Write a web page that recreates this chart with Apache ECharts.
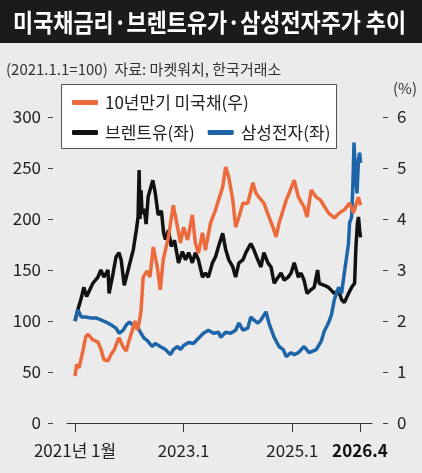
<!DOCTYPE html>
<html>
<head>
<meta charset="utf-8">
<script src="https://cdn.jsdelivr.net/npm/echarts@6/dist/echarts.min.js"></script>
<style>
  html, body { margin: 0; padding: 0; background: #ebebeb; }
  #main { width: 422px; height: 473px; }
</style>
</head>
<body>
<div id="main"></div>
<script>
// 축 눈금
var xTickDates = ['2021-01-01', '2023-01-01', '2025-01-01', '2026-04-01'];
var xTickLabels = ['2021년 1월', '2023.1', '2025.1', '2026.4'];

// 브렌트유 (2021.1.1=100, 좌)
var brent = [
  ['2021-01-01', 100], ['2021-01-14', 108], ['2021-02-11', 122], ['2021-03-01', 133],
  ['2021-03-20', 124], ['2021-05-01', 137], ['2021-06-04', 143], ['2021-06-24', 150],
  ['2021-07-14', 143], ['2021-08-11', 150], ['2021-08-18', 127], ['2021-09-14', 147],
  ['2021-10-04', 163], ['2021-10-24', 167], ['2021-11-07', 160], ['2021-11-28', 135],
  ['2021-12-24', 150], ['2022-01-28', 170], ['2022-02-17', 189], ['2022-03-01', 202],
  ['2022-03-08', 248], ['2022-03-14', 200], ['2022-03-21', 228], ['2022-03-28', 205],
  ['2022-04-11', 210], ['2022-04-24', 195], ['2022-05-08', 222], ['2022-06-08', 238],
  ['2022-06-24', 226], ['2022-07-14', 204], ['2022-08-05', 208], ['2022-08-20', 186],
  ['2022-09-01', 180], ['2022-09-21', 189], ['2022-10-10', 173], ['2022-11-01', 179],
  ['2022-11-28', 157], ['2022-12-24', 168], ['2023-01-14', 160], ['2023-02-04', 167],
  ['2023-03-01', 157], ['2023-03-21', 167], ['2023-04-11', 160], ['2023-05-08', 143],
  ['2023-05-28', 147], ['2023-06-17', 143], ['2023-07-14', 157], ['2023-08-04', 163],
  ['2023-08-24', 173], ['2023-09-21', 186], ['2023-10-11', 170], ['2023-11-01', 160],
  ['2023-11-28', 153], ['2023-12-17', 143], ['2024-01-08', 157], ['2024-02-04', 160],
  ['2024-02-24', 167], ['2024-03-28', 176], ['2024-04-17', 170], ['2024-05-14', 160],
  ['2024-06-04', 153], ['2024-06-24', 167], ['2024-07-21', 157], ['2024-08-11', 153],
  ['2024-09-01', 137], ['2024-09-28', 143], ['2024-10-17', 147], ['2024-11-08', 140],
  ['2024-12-04', 143], ['2024-12-24', 147], ['2025-01-14', 157], ['2025-02-11', 143],
  ['2025-03-01', 147], ['2025-03-21', 140], ['2025-04-10', 127], ['2025-05-01', 130],
  ['2025-05-28', 133], ['2025-06-20', 150], ['2025-07-01', 137], ['2025-08-04', 135],
  ['2025-09-01', 133], ['2025-09-21', 130], ['2025-10-11', 127], ['2025-11-08', 130],
  ['2025-11-28', 121], ['2025-12-17', 118], ['2026-01-14', 127], ['2026-02-04', 133],
  ['2026-02-24', 137], ['2026-03-05', 173], ['2026-03-15', 196], ['2026-03-22', 202],
  ['2026-03-30', 189], ['2026-04-05', 182]
];

// 삼성전자 주가 (2021.1.1=100, 좌)
var samsung = [
  ['2021-01-01', 100], ['2021-01-14', 108], ['2021-01-21', 111], ['2021-02-11', 104],
  ['2021-03-14', 104], ['2021-04-17', 103], ['2021-05-21', 103], ['2021-06-24', 101],
  ['2021-07-28', 99], ['2021-09-01', 96], ['2021-10-04', 93], ['2021-10-24', 88],
  ['2021-11-21', 91], ['2021-12-11', 96], ['2022-01-01', 99], ['2022-01-28', 96],
  ['2022-02-17', 98], ['2022-03-08', 91], ['2022-04-11', 83], ['2022-05-01', 81],
  ['2022-06-04', 75], ['2022-06-24', 78], ['2022-07-28', 75], ['2022-09-01', 72],
  ['2022-10-04', 67], ['2022-10-24', 72], ['2022-11-21', 75], ['2022-12-11', 72],
  ['2023-01-01', 76], ['2023-02-04', 79], ['2023-03-08', 78], ['2023-04-11', 83],
  ['2023-05-14', 88], ['2023-06-17', 91], ['2023-07-21', 88], ['2023-08-24', 89],
  ['2023-09-08', 84], ['2023-10-11', 89], ['2023-11-14', 88], ['2023-12-17', 91],
  ['2024-01-08', 98], ['2024-02-04', 91], ['2024-03-08', 93], ['2024-03-28', 104],
  ['2024-04-17', 101], ['2024-05-14', 98], ['2024-06-04', 101], ['2024-07-08', 109],
  ['2024-07-28', 98], ['2024-09-01', 84], ['2024-10-04', 75], ['2024-11-01', 72],
  ['2024-11-21', 65], ['2024-12-24', 69], ['2025-01-14', 67], ['2025-02-11', 69],
  ['2025-03-21', 75], ['2025-04-24', 69], ['2025-06-11', 72], ['2025-07-14', 80],
  ['2025-08-04', 90], ['2025-09-01', 98], ['2025-09-21', 106], ['2025-10-11', 121],
  ['2025-11-08', 133], ['2025-11-28', 127], ['2025-12-17', 147], ['2026-01-14', 176],
  ['2026-01-21', 196], ['2026-02-04', 202], ['2026-02-12', 231], ['2026-02-20', 275],
  ['2026-03-01', 248], ['2026-03-12', 225], ['2026-03-22', 258], ['2026-03-30', 265],
  ['2026-04-05', 255]
];

// 10년만기 미국채 금리 (%, 우)
var treasury = [
  ['2021-01-01', 0.92], ['2021-01-12', 1.15], ['2021-01-28', 1.08], ['2021-02-24', 1.43],
  ['2021-03-14', 1.69], ['2021-03-30', 1.74], ['2021-05-01', 1.63], ['2021-06-04', 1.59],
  ['2021-06-24', 1.45], ['2021-07-14', 1.24], ['2021-08-11', 1.22], ['2021-09-01', 1.35],
  ['2021-09-21', 1.43], ['2021-10-17', 1.63], ['2021-10-24', 1.67], ['2021-11-21', 1.49],
  ['2021-12-11', 1.41], ['2022-01-01', 1.63], ['2022-01-28', 1.88], ['2022-02-08', 2.0],
  ['2022-02-24', 1.82], ['2022-03-08', 1.96], ['2022-03-21', 2.2], ['2022-04-04', 2.86],
  ['2022-05-01', 2.98], ['2022-05-20', 2.86], ['2022-06-11', 3.45], ['2022-07-08', 3.06],
  ['2022-07-28', 2.61], ['2022-08-17', 3.2], ['2022-09-21', 3.65], ['2022-10-24', 4.27],
  ['2022-11-21', 3.84], ['2022-12-11', 3.53], ['2023-01-01', 3.84], ['2023-01-28', 3.59],
  ['2023-03-01', 4.08], ['2023-03-21', 3.53], ['2023-04-11', 3.33], ['2023-05-08', 3.73],
  ['2023-05-28', 3.39], ['2023-07-01', 3.92], ['2023-08-04', 4.18], ['2023-08-24', 4.37],
  ['2023-09-21', 4.63], ['2023-10-11', 5.02], ['2023-11-01', 4.82], ['2023-11-28', 4.37],
  ['2023-12-17', 3.84], ['2024-01-08', 4.04], ['2024-02-04', 4.31], ['2024-03-08', 4.31],
  ['2024-04-11', 4.71], ['2024-05-01', 4.51], ['2024-05-21', 4.43], ['2024-06-24', 4.31],
  ['2024-07-28', 4.04], ['2024-08-24', 3.84], ['2024-09-14', 3.65], ['2024-10-04', 3.92],
  ['2024-11-01', 4.18], ['2024-11-21', 4.37], ['2024-12-11', 4.51], ['2025-01-14', 4.76],
  ['2025-02-11', 4.43], ['2025-03-21', 4.24], ['2025-04-10', 4.04], ['2025-05-08', 4.57],
  ['2025-06-11', 4.43], ['2025-07-10', 4.37], ['2025-08-04', 4.25], ['2025-09-01', 4.12],
  ['2025-10-11', 4.02], ['2025-11-14', 4.12], ['2025-12-17', 4.18], ['2026-01-21', 4.31],
  ['2026-02-17', 4.12], ['2026-03-08', 4.31], ['2026-03-22', 4.43], ['2026-04-05', 4.27]
];

var FONT = '"Noto Sans CJK KR", "Noto Sans", sans-serif';

function ts(d) { return echarts.time.parse(d).getTime(); }
function toPoints(list) { return list.map(function (p) { return [ts(p[0]), p[1]]; }); }

var tickTimes = xTickDates.map(ts);

var myChart = echarts.init(document.getElementById('main'));

var option = {
  backgroundColor: '#ebebeb',
  textStyle: { fontFamily: FONT },
  graphic: [{
    type: 'rect',
    z: -10,
    shape: { x: 0, y: 0, width: 422, height: 43 },
    style: { fill: '#1b1b1b' }
  }, {
    // 제목 (좁은 글꼴 느낌으로 가로 축소)
    type: 'text',
    x: 13,
    y: 22,
    scaleX: 0.875,
    style: {
      text: '미국채금리·브렌트유가·삼성전자주가 추이',
      fill: '#fff',
      font: 'bold 25px ' + FONT,
      verticalAlign: 'middle'
    }
  }, {
    type: 'text',
    x: 6,
    y: 69,
    style: {
      text: '(2021.1.1=100)  자료: 마켓워치, 한국거래소',
      fill: '#333',
      font: '15px ' + FONT,
      verticalAlign: 'middle'
    }
  }, {
    // 범례 상자
    type: 'rect',
    z: 1,
    shape: { x: 61.5, y: 84.5, width: 275, height: 64 },
    style: { fill: '#fff', stroke: '#555', lineWidth: 1 }
  }],
  legend: {
    data: ['10년만기 미국채(우)', '브렌트유(좌)', '삼성전자(좌)'],
    left: 72,
    top: 94,
    width: 262,
    padding: 0,
    itemWidth: 26,
    itemHeight: 5,
    itemGap: 13,
    icon: 'roundRect',
    textStyle: { fontSize: 17, color: '#222', fontFamily: FONT, padding: [0, 0, 0, 2] }
  },
  grid: { left: 67, right: 50, top: 117, bottom: 50 },
  xAxis: {
    type: 'value',
    min: ts('2020-11-08'),
    max: ts('2026-06-21'),
    axisLine: { show: true, lineStyle: { color: '#333', width: 1 } },
    axisTick: { show: true, customValues: tickTimes, length: 9, lineStyle: { color: '#333' } },
    splitLine: { show: false },
    axisLabel: {
      customValues: tickTimes,
      margin: 19,
      fontSize: 17,
      color: '#222',
      formatter: function (val) {
        var i = 0, best = Infinity;
        tickTimes.forEach(function (t, k) {
          if (Math.abs(t - val) < best) { best = Math.abs(t - val); i = k; }
        });
        return i === xTickLabels.length - 1 ? '{b|' + xTickLabels[i] + '}' : xTickLabels[i];
      },
      rich: { b: { fontSize: 17, fontWeight: 'bold', color: '#111', fontFamily: FONT } }
    }
  },
  yAxis: [{
    type: 'value',
    min: 0,
    max: 300,
    interval: 50,
    offset: 14,
    axisLine: { show: false },
    axisTick: { show: true, length: 5, lineStyle: { color: '#444' } },
    splitLine: { show: false },
    axisLabel: { fontSize: 17, color: '#222', margin: 12 }
  }, {
    type: 'value',
    min: 0,
    max: 6,
    interval: 1,
    offset: 11,
    position: 'right',
    name: '(%)',
    nameLocation: 'end',
    nameGap: 21,
    nameTextStyle: { fontSize: 15, color: '#333', align: 'left', padding: [0, 0, 0, 10] },
    axisLine: { show: false },
    axisTick: { show: true, length: 5, lineStyle: { color: '#444' } },
    splitLine: { show: false },
    axisLabel: { fontSize: 17, color: '#222', margin: 14 }
  }],
  series: [{
    name: '브렌트유(좌)',
    type: 'line',
    yAxisIndex: 0,
    showSymbol: false,
    color: '#111111',
    lineStyle: { width: 3.5, color: '#111111' },
    data: toPoints(brent)
  }, {
    name: '삼성전자(좌)',
    type: 'line',
    yAxisIndex: 0,
    showSymbol: false,
    color: '#1d64a8',
    lineStyle: { width: 3.5, color: '#1d64a8' },
    data: toPoints(samsung)
  }, {
    name: '10년만기 미국채(우)',
    type: 'line',
    yAxisIndex: 1,
    showSymbol: false,
    color: '#ec6a3c',
    lineStyle: { width: 3.5, color: '#ec6a3c' },
    data: toPoints(treasury)
  }]
};

myChart.setOption(option);
</script>
</body>
</html>
